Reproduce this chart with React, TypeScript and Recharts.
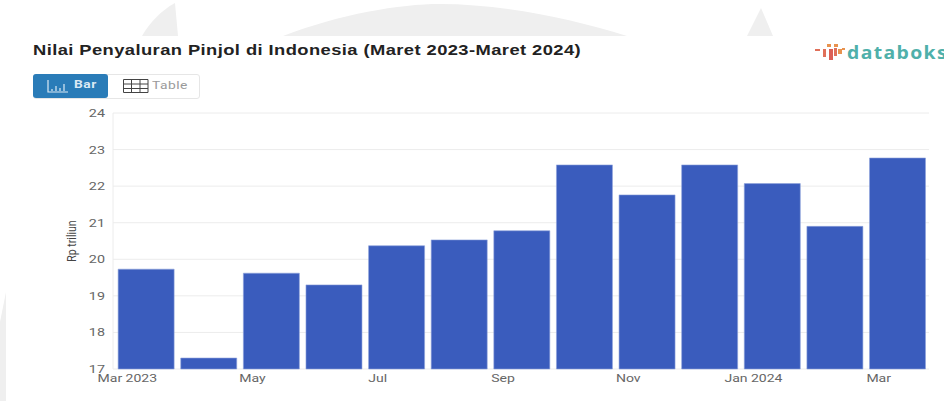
import { BarChart, Bar, CartesianGrid, XAxis, YAxis } from "recharts";

const months = ["Mar 2023", "Apr", "May", "Jun", "Jul", "Aug", "Sep", "Oct", "Nov", "Dec", "Jan 2024", "Feb", "Mar"];
const values = [19.73, 17.3, 19.62, 19.3, 20.37, 20.53, 20.78, 22.58, 21.76, 22.58, 22.07, 20.9, 22.77];
const yTicks = [17, 18, 19, 20, 21, 22, 23, 24];

const rows = months.map((month, i) => ({ month, value: values[i] }));

const font = "Roboto, sans-serif";

// axis labels are set wide, so they get a horizontal stretch
function MonthTick({ x, y, payload }: any) {
  return (
    <text
      transform={`translate(${x - 19},${y + 5}) scale(1.22,1)`}
      textAnchor="middle"
      fontFamily={font}
      fontSize={11.5}
      fill="#666"
    >
      {payload.value}
    </text>
  );
}

function ValueTick({ x, y, payload }: any) {
  return (
    <text
      transform={`translate(${x},${y + 4}) scale(1.25,1)`}
      textAnchor="end"
      fontFamily={font}
      fontSize={11.5}
      fill="#666"
    >
      {payload.value}
    </text>
  );
}

function Watermark() {
  return (
    <svg width={944} height={401} style={{ position: "absolute", left: 0, top: 0 }}>
      <path d="M142 36 C150 22 162 10 175 3 L178 36 Z" fill="#efefef" />
      <path d="M283 36 C340 14 400 4 440 4 C500 4 570 18 627 36 Z" fill="#efefef" />
      <path d="M747 36 L761 8 L773 36 Z" fill="#efefef" />
      <path d="M0 322 L6 292 L6 401 L0 401 Z" fill="#efefef" />
    </svg>
  );
}

function Logo() {
  return (
    <div style={{ position: "absolute", left: 815, top: 42, width: 129, height: 22, overflow: "hidden" }}>
      <svg width={30} height={22} style={{ position: "absolute", left: 0, top: 0 }}>
        <rect x={0} y={7} width={5} height={2} fill="#e0705a" />
        <rect x={8} y={7} width={3} height={8} fill="#e0705a" />
        <rect x={12} y={2} width={4} height={3} fill="#e8924e" />
        <rect x={14} y={7} width={4} height={11} fill="#dc5f55" />
        <rect x={19} y={6} width={3} height={8} fill="#e0705a" />
        <rect x={19} y={2} width={4} height={3} fill="#e8924e" />
        <rect x={23} y={7} width={4} height={5} fill="#e8924e" />
        <rect x={27} y={6} width={3} height={2} fill="#e8924e" />
      </svg>
      <span
        style={{
          position: "absolute",
          left: 32,
          top: 0,
          fontFamily: "'Open Sans', sans-serif",
          fontWeight: 700,
          fontSize: 17,
          letterSpacing: 1.2,
          lineHeight: "22px",
          color: "#4fb0aa",
          transform: "scaleX(1.14)",
          transformOrigin: "left center",
        }}
      >
        databoks
      </span>
    </div>
  );
}

function Toggle() {
  return (
    <div style={{ position: "absolute", left: 33, top: 74, width: 167, height: 25, border: "1px solid #e6e6e6", borderRadius: 3, boxSizing: "border-box" }}>
      <div style={{ position: "absolute", left: -1, top: -1, width: 75, height: 24, background: "#2a7cb8", borderRadius: 3 }}>
        <svg width={22} height={14} style={{ position: "absolute", left: 14, top: 6 }}>
          <path d="M1 0 V12 H21 M5 9 V11 M9 6 V11 M13 8 V11 M17 4 V11" stroke="#dbe9f4" strokeWidth={1.2} fill="none" />
        </svg>
        <span style={{ position: "absolute", left: 41, top: 4, fontFamily: font, fontWeight: 700, fontSize: 11, letterSpacing: 0.4, color: "#dbe9f4", transform: "scaleX(1.25)", transformOrigin: "left center" }}>Bar</span>
      </div>
      <svg width={28} height={16} style={{ position: "absolute", left: 88, top: 3 }}>
        <path d="M1.5 1.5 H26 V14.5 H1.5 Z M1.5 6 H26 M1.5 10.5 H26 M9.5 1.5 V14.5 M18 1.5 V14.5" stroke="#444" strokeWidth={1} fill="none" />
      </svg>
      <span style={{ position: "absolute", left: 118, top: 3, fontFamily: font, fontSize: 11.5, letterSpacing: 0.4, color: "#9a9a9a", transform: "scaleX(1.2)", transformOrigin: "left center" }}>Table</span>
    </div>
  );
}

export default function App() {
  return (
    <div style={{ position: "absolute", left: 0, top: 0, width: 944, height: 401, background: "#fff", overflow: "hidden" }}>
      <Watermark />
      <div
        style={{
          position: "absolute",
          left: 33,
          top: 41,
          fontFamily: "'Liberation Sans', Arial, sans-serif",
          fontWeight: 700,
          fontSize: 15.5,
          letterSpacing: 0.35,
          whiteSpace: "nowrap",
          color: "#222",
          transform: "scaleX(1.184)",
          transformOrigin: "left center",
        }}
      >
        Nilai Penyaluran Pinjol di Indonesia (Maret 2023-Maret 2024)
      </div>
      <Logo />
      <Toggle />
      <div style={{ position: "absolute", left: 0, top: 100 }}>
        <BarChart
          width={944}
          height={301}
          data={rows}
          barCategoryGap="5%"
          margin={{ top: 13, right: 15, bottom: 0, left: 73 }}
        >
          <CartesianGrid horizontal vertical={false} stroke="#ececec" />
          <XAxis
            dataKey="month"
            interval={1}
            axisLine={false}
            tickLine={false}
            height={32}
            padding={{ left: 2, right: 0 }}
            tick={<MonthTick />}
          />
          <YAxis
            domain={[17, 24]}
            ticks={yTicks}
            interval={0}
            width={40}
            axisLine={{ stroke: "#ececec" }}
            tickLine={false}
            tick={<ValueTick />}
          />
          <Bar dataKey="value" fill="#3a5cbd" stroke="#8ea3dc" strokeWidth={0.6} isAnimationActive={false} />
        </BarChart>
      </div>
      <div
        style={{
          position: "absolute",
          left: 71,
          top: 241,
          fontFamily: font,
          fontSize: 13.5,
          color: "#444",
          whiteSpace: "nowrap",
          transform: "translate(-50%, -50%) rotate(-90deg) scaleX(0.78)",
        }}
      >
        Rp triliun
      </div>
    </div>
  );
}
